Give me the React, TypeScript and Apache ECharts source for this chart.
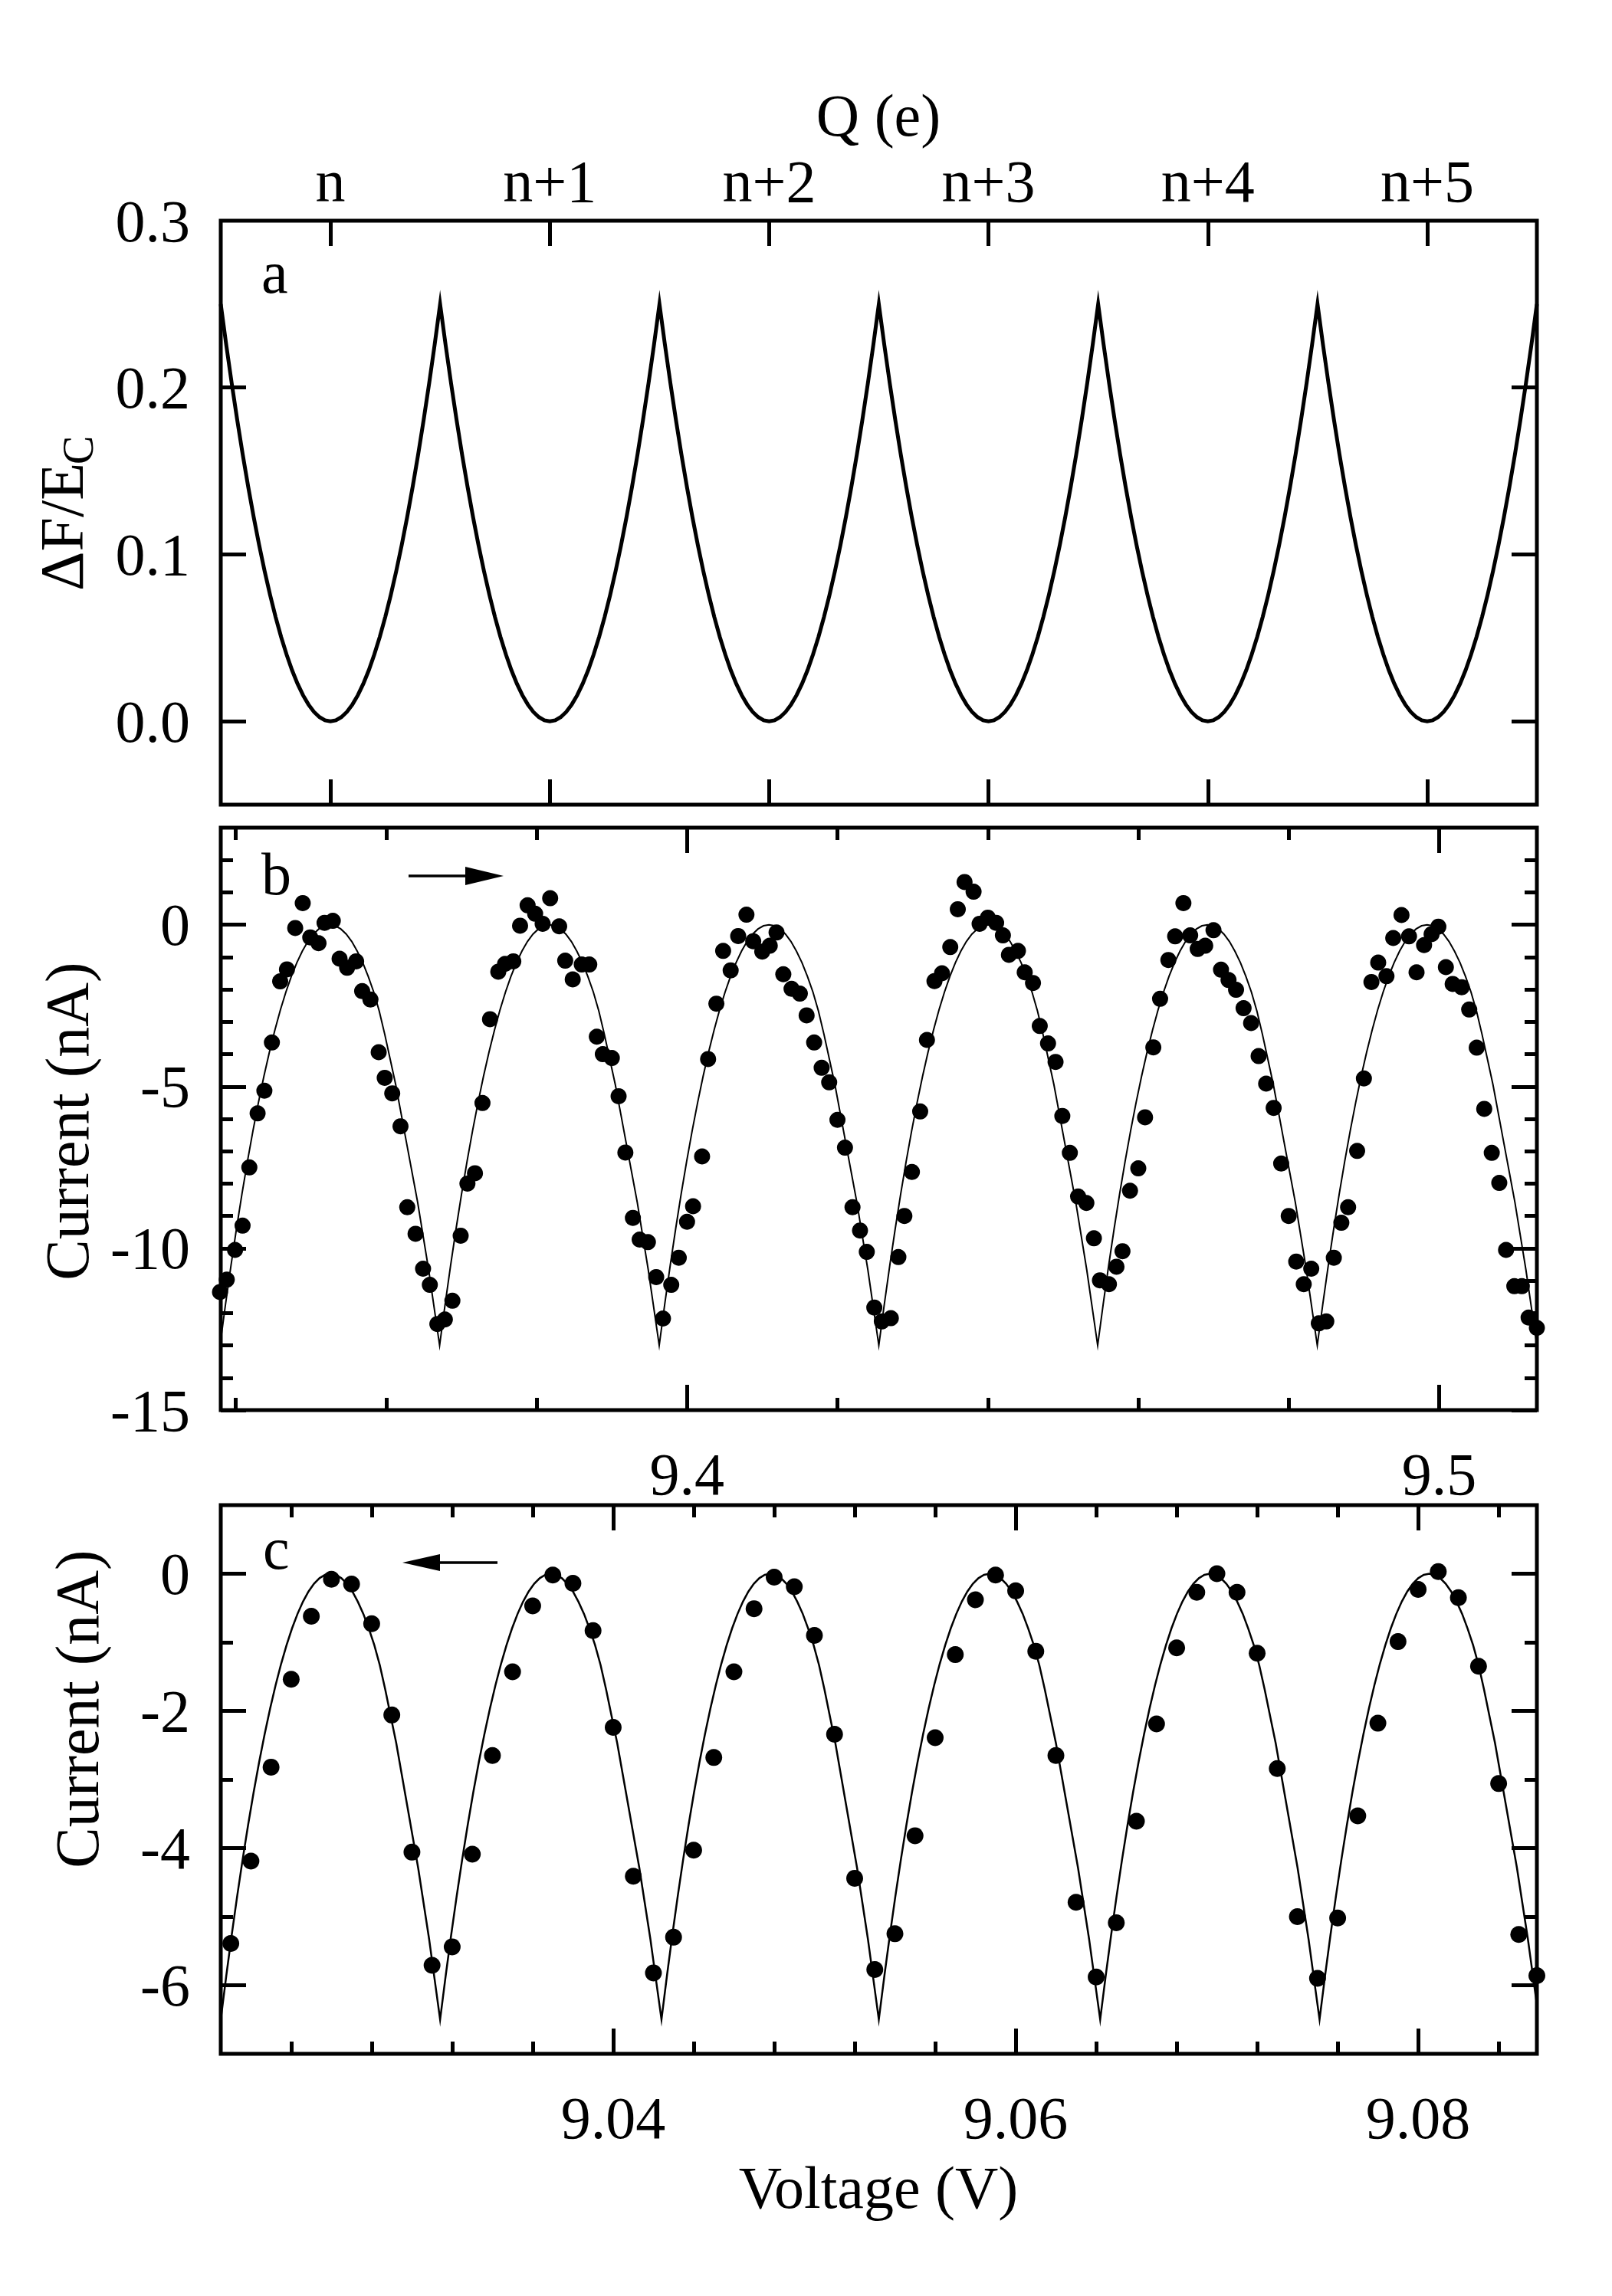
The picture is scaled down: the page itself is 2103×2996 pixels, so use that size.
import React, { useEffect, useRef } from "react";
import * as echarts from "echarts";

const FONT = "'Liberation Serif', 'Times New Roman', Times, serif";
const FS = 78;

// ---------- Panel a : ΔF/E_C vs Q ----------
const qTicks = [0, 1, 2, 3, 4, 5];
const qTickLabels = ["n", "n+1", "n+2", "n+3", "n+4", "n+5"];
const aYTicks = [0, 0.1, 0.2];
const aYLabels = [0, 0.1, 0.2, 0.3];
// one arc (fraction across one charge period) and its read values
const arcFrac = [
  0, 0.025, 0.05, 0.075, 0.1, 0.125, 0.15, 0.175, 0.2, 0.225, 0.25, 0.275, 0.3, 0.325, 0.35, 0.375, 0.4, 0.425, 0.45, 0.475,
  0.5, 0.525, 0.55, 0.575, 0.6, 0.625, 0.65, 0.675, 0.7, 0.725, 0.75, 0.775, 0.8, 0.825, 0.85, 0.875, 0.9, 0.925, 0.95, 0.975, 1,
];
const aArcValues = [
  0.25, 0.2256, 0.2025, 0.1806, 0.16, 0.1406, 0.1225, 0.1056, 0.09, 0.0756, 0.0625, 0.0506, 0.04, 0.0306, 0.0225, 0.0156, 0.01, 0.0056, 0.0025, 0.0006,
  0, 0.0006, 0.0025, 0.0056, 0.01, 0.0156, 0.0225, 0.0306, 0.04, 0.0506, 0.0625, 0.0756, 0.09, 0.1056, 0.1225, 0.1406, 0.16, 0.1806, 0.2025, 0.2256, 0.25,
];

// ---------- fit curve shape for panels b and c (fraction of cusp depth) ----------
const fitShape = [
  1, 0.9025, 0.81, 0.7225, 0.64, 0.5625, 0.49, 0.4225, 0.36, 0.3025, 0.25, 0.2025, 0.16, 0.1225, 0.09, 0.0625, 0.04, 0.0225, 0.01, 0.0025,
  0, 0.0025, 0.01, 0.0225, 0.04, 0.063, 0.09, 0.123, 0.16, 0.205, 0.26, 0.32, 0.38, 0.45, 0.52, 0.59, 0.66, 0.74, 0.82, 0.91, 1,
];

// ---------- Panel b ----------
const bCusps = [9.3379, 9.3671, 9.3963, 9.4255, 9.4546, 9.4838, 9.513];
const bDepth = -13;
const bXMajor = [9.4, 9.5];
const bXMinor = [9.34, 9.36, 9.38, 9.42, 9.44, 9.46, 9.48];
const bYMajor = [0, -5, -10, -15];
const bYMinor = [2, 1, -1, -2, -3, -4, -6, -7, -8, -9, -11, -12, -13, -14];
const bVoltage = [
  9.3379, 9.3388, 9.3399, 9.3409, 9.3418, 9.3429, 9.3438, 9.3448, 9.3459, 9.3468,
  9.3479, 9.3489, 9.3499, 9.351, 9.3518, 9.3529, 9.3538, 9.3548, 9.356, 9.3568,
  9.3579, 9.359, 9.3598, 9.3608, 9.3619, 9.3628, 9.3639, 9.3649, 9.3658, 9.3668,
  9.3678, 9.3688, 9.3699, 9.3708, 9.3718, 9.3728, 9.3738, 9.3749, 9.3758, 9.3769,
  9.3778, 9.3788, 9.3798, 9.3808, 9.3818, 9.383, 9.3838, 9.3848, 9.386, 9.387,
  9.388, 9.3888, 9.39, 9.3909, 9.3918, 9.3928, 9.3937, 9.3948, 9.3959, 9.3968,
  9.3979, 9.3989, 9.4, 9.4008, 9.402, 9.4028, 9.4039, 9.4048, 9.4058, 9.4068,
  9.4079, 9.4088, 9.41, 9.411, 9.4119, 9.4128, 9.4139, 9.415, 9.4159, 9.4169,
  9.4179, 9.4189, 9.42, 9.421, 9.422, 9.423, 9.4239, 9.4249,
  9.4259, 9.4271, 9.4281, 9.4289, 9.4299, 9.431, 9.4319, 9.4329, 9.4339, 9.435,
  9.436, 9.4369, 9.4381, 9.4389, 9.44, 9.4411, 9.442, 9.4428, 9.444, 9.4449,
  9.446, 9.4469, 9.448, 9.449, 9.4499, 9.4509, 9.452, 9.4531, 9.4541, 9.4549,
  9.4561, 9.4571, 9.4579, 9.4589, 9.46, 9.4609, 9.462, 9.4629, 9.464, 9.4649,
  9.466, 9.4669, 9.4679, 9.4689, 9.47, 9.471, 9.472, 9.473, 9.474, 9.475,
  9.476, 9.477, 9.478, 9.479, 9.48, 9.481, 9.482, 9.483, 9.484, 9.485,
  9.486, 9.487, 9.4879, 9.4891, 9.49, 9.491, 9.4919, 9.493, 9.4939, 9.495,
  9.496, 9.497, 9.498, 9.499, 9.4999, 9.5009, 9.5018, 9.503, 9.504, 9.505,
  9.506, 9.507, 9.508, 9.5089, 9.51, 9.511, 9.5119, 9.513,
];
const bCurrent = [
  -11.35, -10.97, -10.05, -9.3, -7.5, -5.83, -5.13, -3.64, -1.75, -1.38,
  -0.1, 0.67, -0.39, -0.57, 0.06, 0.12, -1.05, -1.33, -1.13, -2.05,
  -2.31, -3.94, -4.73, -5.21, -6.23, -8.73, -9.55, -10.63, -11.13, -12.34,
  -12.2, -11.62, -9.61, -8.0, -7.68, -5.51, -2.92, -1.45, -1.21, -1.13,
  -0.03, 0.6, 0.34, 0.03, 0.82, -0.05, -1.11, -1.69, -1.23, -1.23,
  -3.46, -4.0, -4.12, -5.3, -7.04, -9.06, -9.73, -9.81, -10.89, -12.17,
  -11.13, -10.29, -9.18, -8.7, -7.16, -4.15, -2.44, -0.81, -1.41, -0.35,
  0.31, -0.51, -0.83, -0.65, -0.24, -1.53, -1.98, -2.13, -2.8, -3.64,
  -4.42, -4.87, -6.03, -6.89, -8.73, -9.45, -10.11, -11.83,
  -12.26, -12.16, -10.27, -9.0, -7.64, -5.77, -3.56, -1.74, -1.5, -0.69,
  0.48, 1.32, 1.02, 0.03, 0.22, 0.06, -0.33, -0.93, -0.81, -1.47,
  -1.8, -3.13, -3.67, -4.24, -5.91, -7.05, -8.4, -8.6, -9.69, -10.99,
  -11.11, -10.57, -10.09, -8.22, -7.53, -5.95, -3.79, -2.29, -1.09, -0.36,
  0.67, -0.33, -0.75, -0.65, -0.17, -1.39, -1.71, -2.01, -2.58, -3.04,
  -4.06, -4.91, -5.66, -7.38, -9.0, -10.41, -11.11, -10.63, -12.32, -12.26,
  -10.29, -9.21, -8.73, -6.99, -4.75, -1.77, -1.17, -1.59, -0.41, 0.3,
  -0.36, -1.47, -0.63, -0.29, -0.06, -1.31, -1.83, -1.93, -2.62, -3.8,
  -5.69, -7.05, -7.98, -10.05, -11.17, -11.17, -12.14, -12.46,
];

// ---------- Panel c ----------
const cCusps = [9.0205, 9.0314, 9.0424, 9.0532, 9.0642, 9.0751, 9.086];
const cDepth = -6.5;
const cXMajor = [9.04, 9.06, 9.08];
const cXMinor = [9.024, 9.028, 9.032, 9.036, 9.044, 9.048, 9.052, 9.056, 9.064, 9.068, 9.072, 9.076, 9.084];
const cYMajor = [0, -2, -4, -6];
const cYMinor = [-1, -3, -5];
const cVoltage = [
  9.021, 9.022, 9.023, 9.024, 9.025, 9.026, 9.027, 9.028, 9.029, 9.03,
  9.031, 9.032, 9.033, 9.034, 9.035, 9.036, 9.037, 9.038, 9.039, 9.04,
  9.041, 9.042, 9.043, 9.044, 9.045, 9.046, 9.047, 9.048, 9.049, 9.05,
  9.051, 9.052, 9.053, 9.054, 9.055, 9.056, 9.057, 9.058, 9.059, 9.06,
  9.061, 9.062, 9.063, 9.064, 9.065, 9.066, 9.067, 9.068, 9.069, 9.07,
  9.071, 9.072, 9.073, 9.074, 9.075, 9.076, 9.077, 9.078, 9.079, 9.08,
  9.081, 9.082, 9.083, 9.084, 9.085, 9.0859,
];
const cCurrent = [
  -5.39, -4.19, -2.82, -1.54, -0.62, -0.08, -0.15, -0.73, -2.06, -4.06,
  -5.71, -5.44, -4.09, -2.65, -1.43, -0.47, -0.02, -0.14, -0.83, -2.24,
  -4.41, -5.82, -5.3, -4.03, -2.68, -1.43, -0.51, -0.05, -0.19, -0.9,
  -2.34, -4.44, -5.77, -5.25, -3.82, -2.39, -1.18, -0.38, -0.02, -0.25,
  -1.13, -2.65, -4.79, -5.88, -5.09, -3.61, -2.19, -1.08, -0.27, 0.0,
  -0.27, -1.16, -2.84, -5.0, -5.9, -5.02, -3.53, -2.18, -0.99, -0.23,
  0.03, -0.35, -1.35, -3.06, -5.26, -5.86,
];

// ---------- build series tables ----------
const aCurve: number[][] = [];
qTicks.forEach((k) => arcFrac.forEach((f, i) => aCurve.push([k - 0.5 + f, aArcValues[i]])));

function fitCurve(cusps: number[], depth: number) {
  const out: number[][] = [];
  for (let j = 0; j < cusps.length - 1; j++) {
    const c0 = cusps[j];
    const c1 = cusps[j + 1];
    arcFrac.forEach((f, i) => out.push([c0 + f * (c1 - c0), depth * fitShape[i]]));
  }
  return out;
}
const bFit = fitCurve(bCusps, bDepth);
const cFit = fitCurve(cCusps, cDepth);
const bPoints = bVoltage.map((v, i) => [v, bCurrent[i]]);
const cPoints = cVoltage.map((v, i) => [v, cCurrent[i]]);

// ---------- axis helpers ----------
const MAJOR = 33;
const MINOR = 16;
function ax(gridIndex: number, position: string, min: number, max: number, ticks: number[], len: number, labels?: number[], fmt?: (v: number) => string, margin?: number): any {
  return {
    type: "value",
    gridIndex,
    position,
    min,
    max,
    axisLine: { show: false, onZero: false },
    splitLine: { show: false },
    axisTick: { show: true, inside: true, length: len, customValues: ticks, lineStyle: { color: "#000", width: 5 } },
    axisLabel: labels
      ? { show: true, customValues: labels, formatter: fmt, margin, color: "#000", fontFamily: FONT, fontSize: FS }
      : { show: false },
  };
}

const f1 = (v: number) => v.toFixed(1);
const f2 = (v: number) => v.toFixed(2);
const f0 = (v: number) => String(Math.round(v));
const qFmt = (v: number) => qTickLabels[qTicks.indexOf(Math.round(v))] ?? "";

const A = { min: -0.5, max: 5.5, ymin: -0.05, ymax: 0.3 };
const B = { min: 9.338, max: 9.513, ymin: -15, ymax: 3 };
const C = { min: 9.0205, max: 9.0859, ymin: -7, ymax: 1 };

const gridStyle = { show: true, borderColor: "#000", borderWidth: 5, backgroundColor: "transparent", outerBoundsMode: "none", containLabel: false };

const txt = (text: string, x: number, y: number, opts: any = {}) => ({
  type: "text",
  x,
  y,
  rotation: opts.rotation ?? 0,
  silent: true,
  style: {
    text,
    fill: "#000",
    fontFamily: FONT,
    fontSize: opts.size ?? FS,
    align: opts.align ?? "center",
    textAlign: opts.align ?? "center",
    verticalAlign: "middle",
    textVerticalAlign: "middle",
  },
});

const option: any = {
  animation: false,
  backgroundColor: "#fff",
  textStyle: { fontFamily: FONT },
  grid: [
    { ...gridStyle, left: 288, top: 288, width: 1717, height: 762 },
    { ...gridStyle, left: 288, top: 1080, width: 1717, height: 760 },
    { ...gridStyle, left: 288, top: 1964, width: 1717, height: 716 },
  ],
  xAxis: [
    ax(0, "bottom", A.min, A.max, qTicks, MAJOR),
    ax(0, "top", A.min, A.max, qTicks, MAJOR, qTicks, qFmt, 13),
    ax(1, "bottom", B.min, B.max, bXMajor, MAJOR, bXMajor, f1, 44),
    ax(1, "bottom", B.min, B.max, bXMinor, MINOR),
    ax(1, "top", B.min, B.max, bXMajor, MAJOR),
    ax(1, "top", B.min, B.max, bXMinor, MINOR),
    ax(2, "bottom", C.min, C.max, cXMajor, MAJOR, cXMajor, f2, 44),
    ax(2, "bottom", C.min, C.max, cXMinor, MINOR),
    ax(2, "top", C.min, C.max, cXMajor, MAJOR),
    ax(2, "top", C.min, C.max, cXMinor, MINOR),
  ],
  yAxis: [
    ax(0, "left", A.ymin, A.ymax, aYTicks, MAJOR, aYLabels, f1, 40),
    ax(0, "right", A.ymin, A.ymax, aYTicks, MAJOR),
    ax(1, "left", B.ymin, B.ymax, bYMajor, MAJOR, bYMajor, f0, 40),
    ax(1, "left", B.ymin, B.ymax, bYMinor, MINOR),
    ax(1, "right", B.ymin, B.ymax, bYMajor, MAJOR),
    ax(1, "right", B.ymin, B.ymax, bYMinor, MINOR),
    ax(2, "left", C.ymin, C.ymax, cYMajor, MAJOR, cYMajor, f0, 40),
    ax(2, "left", C.ymin, C.ymax, cYMinor, MINOR),
    ax(2, "right", C.ymin, C.ymax, cYMajor, MAJOR),
    ax(2, "right", C.ymin, C.ymax, cYMinor, MINOR),
  ],
  series: [
    {
      type: "line", xAxisIndex: 0, yAxisIndex: 0, data: aCurve, symbol: "none", silent: true,
      lineStyle: { color: "#000", width: 5, join: "miter", miterLimit: 20 },
    },
    {
      type: "line", xAxisIndex: 2, yAxisIndex: 2, data: bFit, symbol: "none", silent: true,
      lineStyle: { color: "#000", width: 2, join: "miter", miterLimit: 30 },
    },
    {
      type: "scatter", xAxisIndex: 2, yAxisIndex: 2, data: bPoints, symbol: "circle", symbolSize: 21, clip: false, silent: true,
      itemStyle: { color: "#000", opacity: 1 },
    },
    {
      type: "line", xAxisIndex: 6, yAxisIndex: 6, data: cFit, symbol: "none", silent: true,
      lineStyle: { color: "#000", width: 2.5, join: "miter", miterLimit: 30 },
    },
    {
      type: "scatter", xAxisIndex: 6, yAxisIndex: 6, data: cPoints, symbol: "circle", symbolSize: 22, clip: false, silent: true,
      itemStyle: { color: "#000", opacity: 1 },
    },
  ],
  graphic: [
    txt("Q (e)", 1146, 150),
    txt("Voltage (V)", 1146, 2854),
    txt("a", 341, 355, { align: "left" }),
    txt("b", 341, 1140, { align: "left" }),
    txt("c", 343, 2020, { align: "left" }),
    txt("ΔF/E", 81, 771, { rotation: Math.PI / 2, align: "left", size: 80 }),
    txt("C", 102, 606, { rotation: Math.PI / 2, align: "left", size: 56 }),
    txt("Current (nA)", 88, 1463, { rotation: Math.PI / 2, size: 80 }),
    txt("Current (nA)", 101, 2230, { rotation: Math.PI / 2, size: 80 }),
    { type: "line", silent: true, shape: { x1: 533, y1: 1143, x2: 612, y2: 1143 }, style: { stroke: "#000", lineWidth: 3.5 } },
    { type: "polygon", silent: true, shape: { points: [[657, 1143], [607, 1131], [607, 1155]] }, style: { fill: "#000" } },
    { type: "line", silent: true, shape: { x1: 570, y1: 2039, x2: 649, y2: 2039 }, style: { stroke: "#000", lineWidth: 3.5 } },
    { type: "polygon", silent: true, shape: { points: [[525, 2039], [574, 2028], [574, 2050]] }, style: { fill: "#000" } },
  ],
};

export default function App() {
  const ref = useRef<HTMLDivElement>(null);
  useEffect(() => {
    if (!ref.current) return;
    const chart = echarts.init(ref.current, null, { renderer: "svg" });
    chart.setOption(option);
    return () => chart.dispose();
  }, []);
  return (
    <div
      ref={ref}
      style={{ position: "absolute", left: 0, top: 0, width: 2103, height: 2996, background: "#fff" }}
    />
  );
}
